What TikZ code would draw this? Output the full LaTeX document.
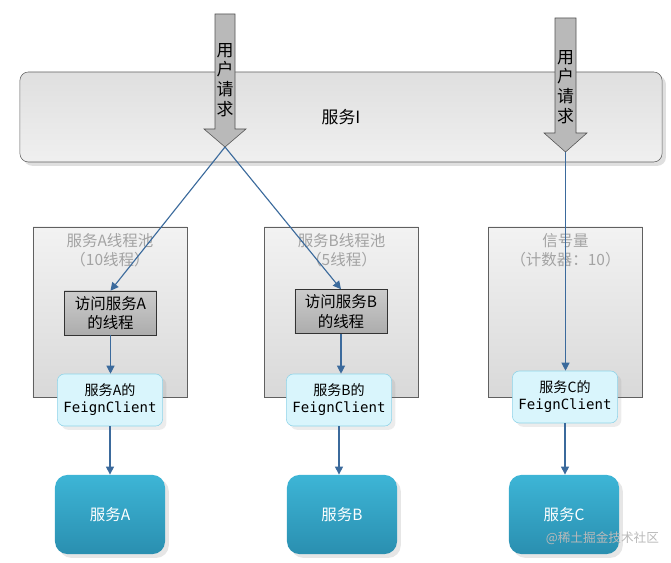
\documentclass[tikz,border=0pt]{standalone}
\usepackage{fontspec}
\setmainfont{Noto Sans CJK SC}
\newfontfamily\monofont{DejaVu Sans Mono}
\usetikzlibrary{arrows.meta, shadows}
\definecolor{linkblue}{HTML}{3B6A9C}
\definecolor{tealtop}{HTML}{3DB5D6}
\definecolor{tealbot}{HTML}{2A8FB0}
\definecolor{feignfill}{HTML}{D9F5FC}
\definecolor{feigndraw}{HTML}{8FD3E8}

\begin{document}
\begin{tikzpicture}[
    x=0.025cm, y=-0.025cm,
    >={Triangle[width=2mm,length=2mm]},
    every node/.style={font=\normalsize},
    hostbox/.style ={draw=gray!75!black, rounded corners=6pt, top color=gray!25,
                     bottom color=gray!12, minimum width=16.05cm, minimum height=2.25cm,
                     drop shadow={opacity=0.25}},
    pool/.style    ={draw=gray!75!black, top color=gray!10, bottom color=gray!30,
                     minimum width=3.85cm, minimum height=4.25cm},
    pooltitle/.style={text=gray!72, align=center, anchor=north,
                     font=\fontsize{11}{13.5}\selectfont, inner sep=0pt},
    worker/.style  ={draw=black!80, top color=gray!40, bottom color=gray!65,
                     align=center, minimum width=2.3cm, minimum height=1.1cm,
                     font=\fontsize{11}{14}\selectfont, inner sep=1pt},
    feign/.style   ={draw=feigndraw, fill=feignfill, rounded corners=5pt, align=center,
                     minimum width=2.63cm, minimum height=1.3cm, inner sep=1pt,
                     drop shadow={opacity=0.15}},
    target/.style  ={rounded corners=9pt, top color=tealtop, bottom color=tealbot,
                     text=white, minimum width=2.75cm, minimum height=1.98cm,
                     font=\fontsize{11}{13}\selectfont, drop shadow={opacity=0.2}},
    reqarrow/.style={draw=gray!65!black, fill=gray!55},
    reqtext/.style ={align=center, inner sep=0pt, font=\large},
    flow/.style    ={->, thick, linkblue},
]
\useasboundingbox (0,0) rectangle (671,563);

% front service
\node[hostbox, font=\large] (host) at (341,117) {服务I};

% thread pools and semaphore
\node[pool] (poolA) at (110,312) {};
\node[pool] (poolB) at (341.5,312) {};
\node[pool] (sema)  at (565.5,312) {};
\node[pooltitle] (titleA) at (110,233) {服务A线程池\\（10线程）};
\node[pooltitle] (titleB) at (341.5,233) {服务B线程池\\（5线程）};
\node[pooltitle] (titleC) at (565.5,233) {信号量\\（计数器：10）};

\node[worker] (thrA) at (110.5,313) {访问服务A\\的线程};
\node[worker] (thrB) at (341,311.5) {访问服务B\\的线程};

\node[feign] (fcA) at (110,400) {服务A的\\{\monofont FeignClient}};
\node[feign] (fcB) at (339,400) {服务B的\\{\monofont FeignClient}};
\node[feign] (fcC) at (565,397) {服务C的\\{\monofont FeignClient}};

\node[target] (svcA) at (110,514.5) {服务A};
\node[target] (svcB) at (342,514.5) {服务B};
\node[target] (svcC) at (564,514.5) {服务C};

% user requests
\draw[reqarrow] (215,14) -- (235,14) -- (235,129) -- (246,129) -- (225,147)
                -- (204,129) -- (215,129) -- cycle;
\coordinate (tipL) at (225,147);
\node[reqtext] (reqL) at (225,80) {用\\户\\请\\求};
\draw[reqarrow] (555,18) -- (576,18) -- (576,133) -- (587,133) -- (565.5,152)
                -- (544,133) -- (555,133) -- cycle;
\coordinate (tipR) at (565.5,152);
\node[reqtext] (reqR) at (565.5,87) {用\\户\\请\\求};

\draw[flow] (tipL) -- (thrA.north);
\draw[flow] (tipL) -- (thrB.north);
\draw[flow] (tipR) -- (tipR |- fcC.north);

\draw[flow] (thrA) -- (thrA |- fcA.north);
\draw[flow] (thrB) -- (thrB |- fcB.north);
\draw[flow] (fcA) -- (fcA |- svcA.north);
\draw[flow] (fcB) -- (fcB |- svcB.north);
\draw[flow] (fcC) -- (fcC |- svcC.north);

\node[text=gray!55, font=\small, anchor=east] (mark) at (664,538) {@稀土掘金技术社区};
\end{tikzpicture}
\end{document}
